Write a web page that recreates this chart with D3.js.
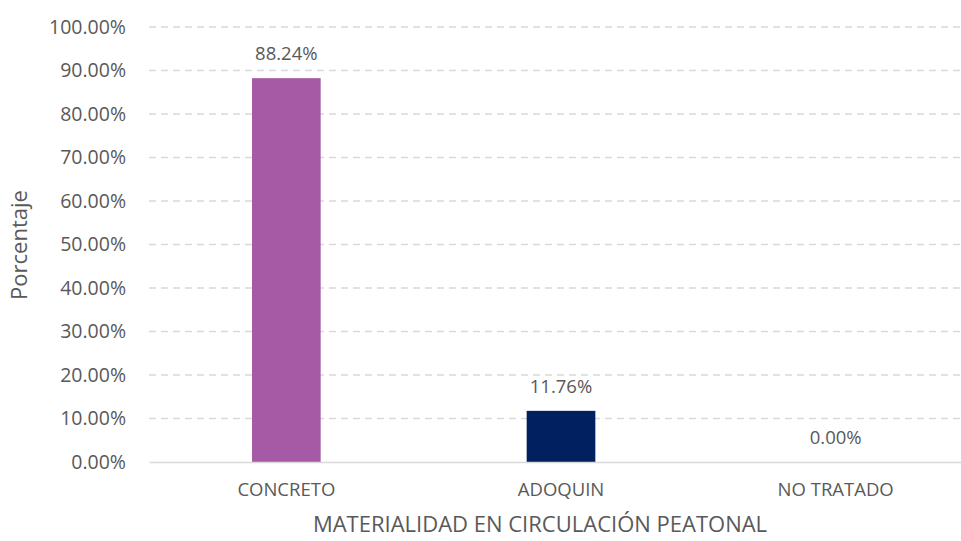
<!DOCTYPE html>
<html>
<head>
<meta charset="utf-8">
<script src="https://cdn.jsdelivr.net/npm/d3@7"></script>
<style>
  body { margin: 0; background: #fff; }
  text { font-family: "Open Sans", sans-serif; fill: #595959; }
</style>
</head>
<body>
<svg id="chart" width="961" height="541"></svg>
<script>
let categories = ["CONCRETO", "ADOQUIN", "NO TRATADO"];
let values = [0.8824, 0.1176, 0.0];
let barColors = ["#A65AA6", "#002060", "#4472C4"];
let yTicks = [0, 0.1, 0.2, 0.3, 0.4, 0.5, 0.6, 0.7, 0.8, 0.9, 1.0];

let svg = d3.select("#chart");

let x = d3.scaleBand()
    .domain(categories)
    .range([149, 973])
    .paddingInner(0.75)
    .paddingOuter(0.375);

let y = d3.scaleLinear()
    .domain([0, 1])
    .range([462, 27]);

// gridlines
svg.append("g")
    .selectAll("line")
    .data(yTicks.slice(1))
    .enter()
    .append("line")
    .attr("x1", 149)
    .attr("x2", 973)
    .attr("y1", d => y(d))
    .attr("y2", d => y(d))
    .attr("stroke", "#D9D9D9")
    .attr("stroke-width", 1.3)
    .attr("stroke-dasharray", "7,5");

// y axis labels
let yAxis = svg.append("g")
    .attr("transform", "translate(149,0)")
    .call(d3.axisLeft(y).tickValues(yTicks).tickFormat(d => (d * 100).toFixed(2) + "%").tickSize(0).tickPadding(23));
yAxis.select(".domain").remove();
yAxis.selectAll("text").style("font-size", "19.5px").attr("fill", "#595959").style("font-family", "Open Sans");

// bars
svg.append("g")
    .selectAll("rect")
    .data(categories)
    .enter()
    .append("rect")
    .attr("x", d => x(d))
    .attr("y", (d, i) => y(values[i]))
    .attr("width", x.bandwidth())
    .attr("height", (d, i) => y(0) - y(values[i]))
    .attr("fill", (d, i) => barColors[i]);

// x axis
let xAxis = svg.append("g")
    .attr("transform", `translate(0, ${y(0)})`)
    .call(d3.axisBottom(x).tickSize(0).tickPadding(21));
xAxis.select(".domain").attr("stroke", "#D9D9D9").attr("stroke-width", 1.5);
xAxis.selectAll("text").style("font-size", "18.5px").attr("fill", "#595959").style("font-family", "Open Sans");

// value labels
svg.append("g")
    .selectAll("text")
    .data(categories)
    .enter()
    .append("text")
    .attr("x", d => x(d) + x.bandwidth() / 2)
    .attr("y", (d, i) => y(values[i]) - 18)
    .attr("text-anchor", "middle")
    .style("font-size", "18.5px")
    .text((d, i) => (values[i] * 100).toFixed(2) + "%");

// axis titles
svg.append("text")
    .attr("x", 540)
    .attr("y", 532)
    .attr("text-anchor", "middle")
    .style("font-size", "22px")
    .text("MATERIALIDAD EN CIRCULACIÓN PEATONAL");

svg.append("text")
    .attr("transform", "translate(27, 245) rotate(-90)")
    .attr("text-anchor", "middle")
    .style("font-size", "22px")
    .text("Porcentaje");
</script>
</body>
</html>
